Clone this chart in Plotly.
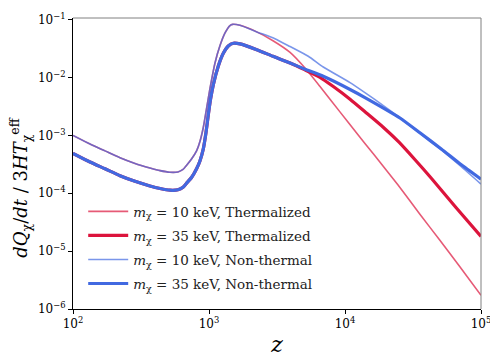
import plotly.graph_objects as go

# ---- data (z, dQ/dt / 3HT) ----
z_low = [100, 133.4, 171.9, 221.6, 285.8, 368, 437, 516, 591, 644, 685]
v_10_low = [1.0e-3, 7.08e-4, 5.40e-4, 4.11e-4, 3.28e-4, 2.74e-4, 2.46e-4, 2.31e-4, 2.34e-4, 2.58e-4, 3.05e-4]
v_35_low = [4.9e-4, 3.47e-4, 2.65e-4, 2.01e-4, 1.61e-4, 1.34e-4, 1.21e-4, 1.13e-4, 1.15e-4, 1.27e-4, 1.50e-4]

z_10_rise = [746, 812, 859, 908, 958.5, 1017, 1107, 1205, 1312, 1427, 1493, 1690, 2244]
v_10_rise = [3.95e-4, 5.46e-4, 7.94e-4, 1.37e-3, 2.86e-3, 6.47e-3, 0.0178, 0.0357, 0.0591, 0.0793, 0.083,
             0.0798, 0.0615]
z_35_rise = [746, 812, 859, 908, 951, 988, 1026, 1076, 1171, 1274, 1387, 1510, 1690, 2244]
v_35_rise = [1.89e-4, 2.68e-4, 3.66e-4, 5.84e-4, 1.13e-3, 2.27e-3, 4.23e-3, 7.57e-3, 0.0158, 0.0262, 0.0351,
             0.0391, 0.0382, 0.0303]

z_10_th_tail = [2955, 3945, 5082, 6550, 9180, 12050, 16150, 24550, 35550, 49700, 70150, 100000]
v_10_th_tail = [0.0433, 0.0272, 0.0146, 7.0e-3, 2.55e-3, 1.13e-3, 4.8e-4, 1.39e-4, 4.33e-5, 1.56e-5, 5.31e-6,
                1.72e-6]
z_35_th_tail = [2955, 3945, 5082, 6550, 8204, 10890, 14450, 19010, 24950, 32740, 43130, 65450, 100000]
v_35_th_tail = [0.0233, 0.0178, 0.01355, 0.0101, 7.0e-3, 4.23e-3, 2.42e-3, 1.40e-3, 7.65e-4, 3.80e-4, 1.82e-4,
                5.68e-5, 1.80e-5]
z_10_nt_tail = [3055, 3945, 5370, 6920, 10890, 14450, 19140, 25350, 35550, 51050, 71270, 100000]
v_10_nt_tail = [0.0469, 0.0343, 0.0233, 0.0152, 8.16e-3, 5.22e-3, 3.28e-3, 2.02e-3, 1.08e-3, 5.61e-4, 2.90e-4,
                1.44e-4]
z_35_nt_tail = [2955, 3945, 5082, 6920, 10890, 14450, 25350, 35550, 51050, 71270, 100000]
v_35_nt_tail = [0.0233, 0.0178, 0.01396, 0.0105, 6.22e-3, 4.34e-3, 2.0e-3, 1.11e-3, 5.83e-4, 3.13e-4, 1.75e-4]

names = ["<i>m</i><sub>χ</sub> = 10 keV, Thermalized",
         "<i>m</i><sub>χ</sub> = 35 keV, Thermalized",
         "<i>m</i><sub>χ</sub> = 10 keV, Non-thermal",
         "<i>m</i><sub>χ</sub> = 35 keV, Non-thermal"]

x_tickvals = [100, 1000, 10000, 100000]
x_ticktext = ["10<sup>2</sup>", "10<sup>3</sup>", "10<sup>4</sup>", "10<sup>5</sup>"]
y_tickvals = [1e-6, 1e-5, 1e-4, 1e-3, 1e-2, 1e-1]
y_ticktext = ["10<sup>−6</sup>", "10<sup>−5</sup>", "10<sup>−4</sup>", "10<sup>−3</sup>",
              "10<sup>−2</sup>", "10<sup>−1</sup>"]

FONT = "DejaVu Serif"

series = [
    (z_low + z_10_rise + z_10_th_tail, v_10_low + v_10_rise + v_10_th_tail, "rgba(220,20,60,0.7)", 1.6),
    (z_low + z_35_rise + z_35_th_tail, v_35_low + v_35_rise + v_35_th_tail, "rgb(220,20,60)", 3.2),
    (z_low + z_10_rise + z_10_nt_tail, v_10_low + v_10_rise + v_10_nt_tail, "rgba(65,105,225,0.7)", 1.6),
    (z_low + z_35_rise + z_35_nt_tail, v_35_low + v_35_rise + v_35_nt_tail, "rgb(65,105,225)", 3.2),
]

fig = go.Figure()
for i, (zz, vv, col, w) in enumerate(series):
    fig.add_trace(go.Scatter(x=zz, y=vv, mode="lines", name=names[i], legendgroup=str(i),
                             line=dict(color=col, width=w, shape="spline", smoothing=0.5)))

axis_common = dict(type="log", showgrid=False, zeroline=False, showline=True, linecolor="black", linewidth=1,
                   ticks="outside", ticklen=4, tickwidth=1, tickcolor="black", ticklabeloverflow="allow",
                   tickfont=dict(family=FONT, size=12, color="black"))

fig.update_xaxes(range=[2, 5], tickvals=x_tickvals, ticktext=x_ticktext,
                 title=dict(text="<i>z</i>", font=dict(family=FONT, size=22, color="black"), standoff=6),
                 **axis_common)
fig.update_yaxes(range=[-6, -0.971], tickvals=y_tickvals, ticktext=y_ticktext, **axis_common)

# top/right spines (lighter)
fig.add_shape(type="line", xref="x domain", yref="y domain", x0=0, x1=1, y0=1, y1=1,
              line=dict(color="#808080", width=1))
fig.add_shape(type="line", xref="x domain", yref="y domain", x0=1, x1=1, y0=0, y1=1,
              line=dict(color="#808080", width=1))

fig.add_annotation(text="<i>dQ</i><sub>χ</sub>/<i>dt</i> / 3<i>HT</i><sub>χ</sub><sup>eff</sup>",
                   xref="paper", yref="paper", x=-0.13, y=0.42, textangle=-90, showarrow=False,
                   xanchor="center", yanchor="middle", font=dict(family=FONT, size=18, color="black"))

# the page body adds an 8px margin, so the figure is sized to fit the 498x362 window
fig.update_layout(
    width=490, height=354,
    margin=dict(l=65, r=17, t=3, b=53),
    paper_bgcolor="white", plot_bgcolor="white",
    showlegend=True,
    legend=dict(x=0.025, y=0.388, xanchor="left", yanchor="top", bgcolor="rgba(0,0,0,0)",
                font=dict(family=FONT, size=13.5, color="#222"), tracegroupgap=3.5, itemwidth=40),
)

fig.write_html("out.html")
